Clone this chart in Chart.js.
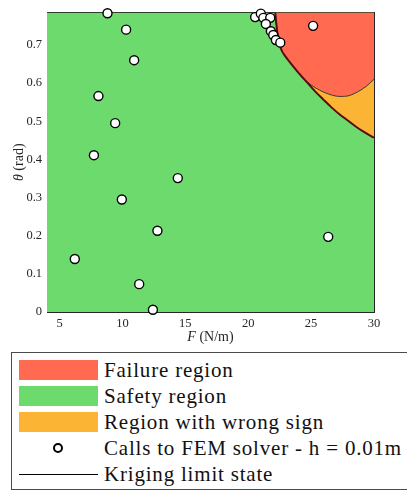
<!DOCTYPE html>
<html>
<head>
<meta charset="utf-8">
<script src="https://cdn.jsdelivr.net/npm/chart.js@4/dist/chart.umd.min.js"></script>
<style>
  html, body { margin: 0; padding: 0; background: #fff; }
  #wrap { position: relative; width: 407px; height: 491px; overflow: hidden; }
  #c { position: absolute; left: 0; top: 0; }
  #legend {
    position: absolute; left: 11px; top: 352px; width: 430px; height: 138px;
    box-sizing: border-box; border: 1px solid #4a4a4a; background: #fff;
    font-family: "Liberation Serif", "DejaVu Serif"; font-size: 21px; color: #111;
  }
  #legend .row { position: absolute; left: 0; height: 26px; width: 100%; }
  #legend .key { position: absolute; }
  #legend .txt { position: absolute; left: 92px; top: 0; line-height: 26px; white-space: nowrap; letter-spacing: 0.8px; }
</style>
</head>
<body>
<div id="wrap">
  <canvas id="c" width="407" height="491"></canvas>
  <div id="legend"></div>
</div>
<script>
// Axis ranges and tick values
const F_MIN = 4, F_MAX = 30;
const THETA_MIN = 0, THETA_MAX = 0.785;
const xTicks = [5, 10, 15, 20, 25, 30];
const yTicks = [0, 0.1, 0.2, 0.3, 0.4, 0.5, 0.6, 0.7];

// Design points evaluated by the FEM solver
const solverF     = [8.81, 10.29, 10.93, 8.09, 9.42, 7.73, 14.40, 9.95, 12.78, 6.21, 11.33, 12.42, 25.16, 26.36,
                     20.55, 21.00, 21.20, 21.75, 21.40, 21.80, 21.99, 22.20, 22.55];
const solverTheta = [0.783, 0.740, 0.660, 0.566, 0.495, 0.411, 0.351, 0.295, 0.213, 0.139, 0.073, 0.006, 0.750, 0.197,
                     0.773, 0.782, 0.771, 0.771, 0.755, 0.736, 0.726, 0.713, 0.706];

// Kriging limit state curve
const limitF     = [22.15, 22.25, 22.40, 22.60, 23.00, 23.30, 24.00, 24.70, 25.30, 26.00, 26.60, 27.30, 28.00, 28.60, 29.30, 30.00];
const limitTheta = [0.785, 0.750, 0.715, 0.690, 0.668, 0.655, 0.627, 0.601, 0.579, 0.556, 0.537, 0.517, 0.500, 0.485, 0.470, 0.457];

// Lower edge of the failure region
const failF     = [22.15, 22.25, 22.40, 22.60, 23.00, 23.30, 24.00, 24.50, 25.00, 25.70, 26.50, 27.30, 28.00, 28.70, 29.40, 30.00];
const failTheta = [0.785, 0.750, 0.715, 0.690, 0.668, 0.655, 0.627, 0.609, 0.595, 0.581, 0.570, 0.565, 0.567, 0.577, 0.592, 0.610];

const RED = '#ff6a50', GREEN = '#6cda6c', ORANGE = '#fbb434';
const SERIF = '"Liberation Serif", "DejaVu Serif"';

const pts = (xs, ys) => xs.map((x, i) => ({ x, y: ys[i] }));

// Legend drawn as an HTML block under the axes, built from the datasets
const htmlLegend = {
  id: 'htmlLegend',
  afterUpdate(chart) {
    const box = document.getElementById('legend');
    box.innerHTML = '';
    chart.data.datasets.forEach((ds, i) => {
      const center = 17 + 26 * i;
      const row = document.createElement('div');
      row.className = 'row';
      row.style.top = (center - 13) + 'px';
      const key = document.createElement('div');
      key.className = 'key';
      if (ds.legendKind === 'patch') {
        Object.assign(key.style, { left: '7px', top: '3px', width: '79px', height: '20px', background: ds.backgroundColor });
      } else if (ds.legendKind === 'marker') {
        Object.assign(key.style, { left: '41px', top: '8px', width: '10px', height: '10px', boxSizing: 'border-box',
          borderRadius: '50%', border: '2px solid #000', background: '#fff' });
      } else {
        Object.assign(key.style, { left: '7px', top: '13px', width: '79px', height: '1px', background: '#000' });
      }
      const txt = document.createElement('div');
      txt.className = 'txt';
      txt.textContent = ds.label;
      row.appendChild(key);
      row.appendChild(txt);
      box.appendChild(row);
    });
  }
};

// Axis titles with an italic symbol followed by upright units
const axisTitles = {
  id: 'axisTitles',
  afterDraw(chart) {
    const { ctx, chartArea } = chart;
    const drawMixed = (sym, rest, cx, cy) => {
      ctx.font = 'italic 14px ' + SERIF;
      const w1 = ctx.measureText(sym).width;
      ctx.font = '14px ' + SERIF;
      const w2 = ctx.measureText(rest).width;
      const x = cx - (w1 + w2) / 2;
      ctx.textBaseline = 'middle';
      ctx.textAlign = 'left';
      ctx.fillStyle = '#262626';
      ctx.font = 'italic 14px ' + SERIF;
      ctx.fillText(sym, x, cy);
      ctx.font = '14px ' + SERIF;
      ctx.fillText(rest, x + w1, cy);
    };
    ctx.save();
    drawMixed('F', ' (N/m)', (chartArea.left + chartArea.right) / 2, 337);
    ctx.translate(19, (chartArea.top + chartArea.bottom) / 2);
    ctx.rotate(-Math.PI / 2);
    drawMixed('\u03B8', ' (rad)', 0, 0);
    ctx.restore();
  }
};

const tickFont = { family: SERIF, size: 12.5 };
const gridStyle = { color: 'rgba(0,0,0,0.14)', lineWidth: 1, drawTicks: false };
const frame = { color: '#262626', width: 1 };

new Chart(document.getElementById('c'), {
  type: 'line',
  data: {
    datasets: [
      {
        label: 'Failure region', legendKind: 'patch', order: 3,
        data: pts(failF, failTheta), fill: 'end',
        backgroundColor: RED, borderColor: '#3a3a3a', borderWidth: 1,
        pointRadius: 0, cubicInterpolationMode: 'monotone'
      },
      {
        label: 'Safety region', legendKind: 'patch', order: 5,
        data: [{ x: F_MIN, y: THETA_MAX }, { x: F_MAX, y: THETA_MAX }], fill: 'start',
        backgroundColor: GREEN, borderWidth: 0, pointRadius: 0
      },
      {
        label: 'Region with wrong sign', legendKind: 'patch', order: 4,
        data: pts(limitF, limitTheta), fill: 'end',
        backgroundColor: ORANGE, borderWidth: 0, pointRadius: 0, cubicInterpolationMode: 'monotone'
      },
      {
        label: 'Calls to FEM solver - h = 0.01m', legendKind: 'marker', order: 1,
        data: pts(solverF, solverTheta), showLine: false, fill: false,
        pointRadius: 4.5, pointBorderWidth: 1.4, pointBorderColor: '#000', pointBackgroundColor: '#fff',
        clip: 6
      },
      {
        label: 'Kriging limit state', legendKind: 'line', order: 2,
        data: pts(limitF, limitTheta), fill: false,
        borderColor: '#5e0a16', borderWidth: 2, pointRadius: 0, cubicInterpolationMode: 'monotone'
      }
    ]
  },
  options: {
    responsive: false,
    animation: false,
    events: [],
    layout: { padding: { top: 7, right: 33, left: 0, bottom: 0 } },
    plugins: { legend: { display: false }, tooltip: { enabled: false }, filler: { propagate: false } },
    scales: {
      x: {
        type: 'linear', position: 'bottom', min: F_MIN, max: F_MAX, z: 1,
        afterFit(s) { s.height = 179; },
        afterBuildTicks(s) { s.ticks = xTicks.map(v => ({ value: v })); },
        grid: gridStyle, border: frame,
        ticks: { padding: 4, color: '#262626', font: tickFont, maxRotation: 0, callback: v => String(v) }
      },
      y: {
        type: 'linear', position: 'left', min: THETA_MIN, max: THETA_MAX, z: 1,
        afterFit(s) { s.width = 47; },
        afterBuildTicks(s) { s.ticks = yTicks.map(v => ({ value: v })); },
        grid: gridStyle, border: frame,
        ticks: { padding: 5, color: '#262626', font: tickFont, callback: v => String(v) }
      },
      x2: {
        type: 'linear', position: 'top', min: F_MIN, max: F_MAX, z: 1,
        afterFit(s) { s.height = 0; },
        grid: { display: false }, ticks: { display: false }, border: frame
      },
      y2: {
        type: 'linear', position: 'right', min: THETA_MIN, max: THETA_MAX, z: 1,
        afterFit(s) { s.width = 0; },
        grid: { display: false }, ticks: { display: false }, border: frame
      }
    }
  },
  plugins: [htmlLegend, axisTitles]
});
</script>
</body>
</html>
